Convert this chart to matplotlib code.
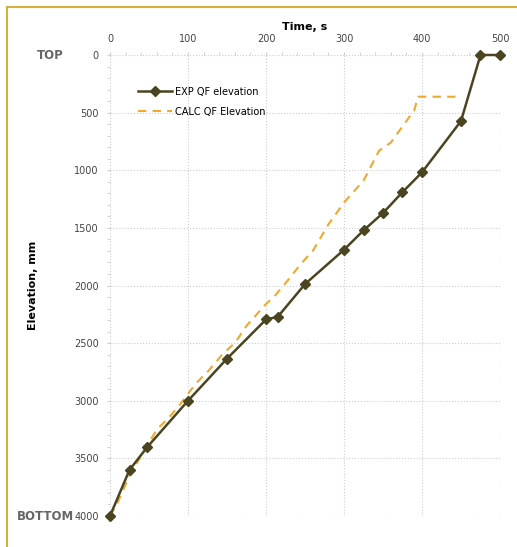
import numpy as np
import matplotlib.pyplot as plt
from matplotlib.patches import Rectangle
from matplotlib.ticker import MultipleLocator

# experimental quench front elevation
exp_time = [0, 25, 48, 100, 150, 200, 215, 250, 300, 325, 350, 375, 400, 450, 475, 500]
exp_elev = [4000, 3600, 3400, 3000, 2635, 2295, 2272, 1988, 1690, 1522, 1371, 1190, 1018, 573, 0, 0]

# calculated quench front elevation
calc_time = [0, 10, 25, 45, 60, 75, 90, 110, 125, 145, 160, 175, 200, 210, 225, 245, 260,
             280, 300, 325, 345, 360, 375, 390, 395, 450]
calc_elev = [4000, 3880, 3650, 3420, 3250, 3150, 3030, 2850, 2750, 2590, 2500, 2350, 2160,
             2100, 1980, 1810, 1700, 1470, 1280, 1090, 830, 760, 620, 480, 362, 362]

xticks = [0, 100, 200, 300, 400, 500]
yticks = [0, 500, 1000, 1500, 2000, 2500, 3000, 3500, 4000]

fig = plt.figure(figsize=(5.17, 5.47), dpi=100)
fig.patches.append(Rectangle((7/517, -0.05), 1.2, 1 - 7/547 + 0.05, transform=fig.transFigure,
                             fill=False, edgecolor='#d4b13c', linewidth=1.5))
ax = fig.add_axes([110/517, 1 - 516/547, 390/517, 461/547])

ax.plot(calc_time, calc_elev, color='#f0a830', lw=1.5, ls=(0, (4, 3)), label='CALC QF Elevation', zorder=2)
ax.plot(exp_time, exp_elev, color='#4a4520', lw=1.8, marker='D', ms=5, label='EXP QF elevation',
        zorder=3, clip_on=False)

ax.set_xlim(0, 500)
ax.set_ylim(4000, 0)
ax.set_xticks(xticks)
ax.set_yticks(yticks)
ax.xaxis.set_minor_locator(MultipleLocator(20))
ax.yaxis.set_minor_locator(MultipleLocator(100))
ax.xaxis.tick_top()
ax.xaxis.set_label_position('top')
ax.tick_params(which='both', length=2, color='#cccccc', labelsize=7, labelcolor='#444444', pad=6)
for s in ax.spines.values():
    s.set_visible(False)
ax.grid(True, which='major', color='#cccccc', ls=':', lw=0.8)
ax.set_xlabel('Time, s', fontsize=8, fontweight='bold', labelpad=3)
ax.set_ylabel('Elevation, mm', fontsize=8, fontweight='bold', labelpad=26)

ax.text(-0.12, 1.0, 'TOP', transform=ax.transAxes, ha='right', va='center',
        fontsize=8.5, fontweight='bold', color='#666666')
ax.text(-0.093, 0.0, 'BOTTOM', transform=ax.transAxes, ha='right', va='center',
        fontsize=8.5, fontweight='bold', color='#666666')

h, l = ax.get_legend_handles_labels()
ax.legend(h[::-1], l[::-1], loc='upper left', bbox_to_anchor=(0.05, 0.95), frameon=False,
          fontsize=7, handlelength=3.5, handletextpad=0.3, labelspacing=1.0)

fig.savefig('out.png', dpi=100)
